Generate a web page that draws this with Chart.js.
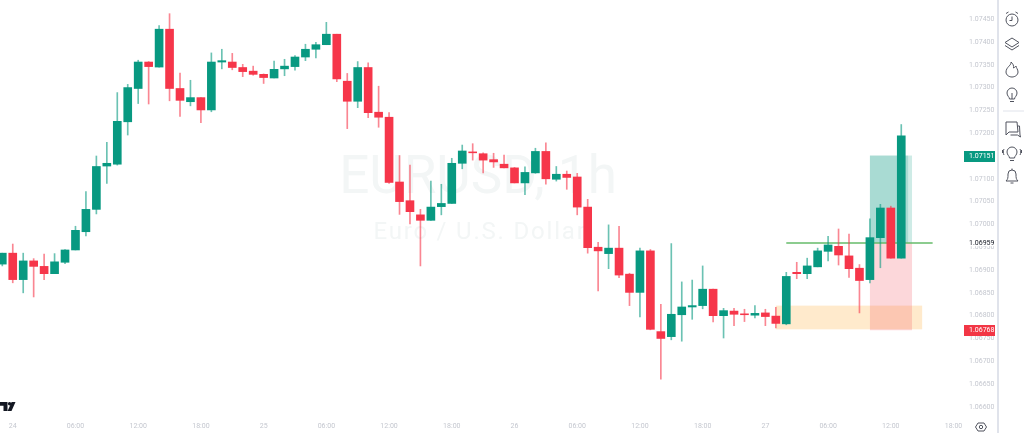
<!DOCTYPE html>
<html>
<head>
<meta charset="utf-8">
<title>EURUSD, 1h</title>
<script src="https://cdn.jsdelivr.net/npm/chart.js@4"></script>
<style>
    html, body { margin: 0; padding: 0; background: #fff; overflow: hidden; }
    #grafica { position: absolute; left: 0; top: 0; }
    #divisor { position: absolute; left: 997px; top: 0; width: 2px; height: 433px; background: #e0e3eb; }
    #iconos { position: absolute; left: 0; top: 0; }
</style>
</head>
<body>
<canvas id="grafica" width="997" height="433"></canvas>
<div id="divisor"></div>
<svg id="iconos" width="1024" height="433" fill="none" stroke="#50535e" stroke-width="1">
    <!-- logo -->
    <path d="M0 402h7.5v9H3.5v-5.2H0z M15.5 402l-4 9H7.6l4-9z" fill="#131722" stroke="none"/>
    <circle cx="9.6" cy="403.8" r="1.7" fill="#131722" stroke="none"/>
    <!-- reloj -->
    <circle cx="1012" cy="20" r="6"/><path d="M1012 16.5V20.5H1009.5M1006 13.5l2.5-1.5M1018 13.5l-2.5-1.5"/>
    <!-- capas -->
    <path d="M1012 38l7 4.5-7 4.5-7-4.5z M1005 45.5l7 4.5 7-4.5"/>
    <!-- llama -->
    <path d="M1011 62c1 3-5 5-5 10 0 3 3 5 6 5s6-2 6-5c0-3-2-4-2-6-1 1-2 2-2.500 2 .5-2-.5-4.500-2.500-6z"/>
    <!-- foco -->
    <path d="M1009.500 99c0-2-2.500-3-2.500-6a5 5 0 0 1 10 0c0 3-2.500 4-2.500 6zM1010 101.500h4M1012 93v6"/>
    <path d="M1003 111h21" stroke="#e0e3eb"/>
    <!-- chat -->
    <path d="M1006 122h11l1 10h-9l-3 3zM1018 126h1.500l.5 9 .5 2-3-2h-7"/>
    <!-- foco con ondas -->
    <path d="M1009.500 158c0-2-2.500-3-2.500-6a5 5 0 0 1 10 0c0 3-2.500 4-2.500 6zM1010 160.500h4M1004 149c-1 2-1 4 0 6M1020 149c1 2 1 4 0 6M1002.500 150v3M1021.500 150v3"/>
    <!-- campana -->
    <path d="M1006 181h12c-2-2-2-3-2-7a4 4 0 0 0-8 0c0 4 0 5-2 7zM1010.500 183h3M1012 170v-1.500"/>
    <!-- ajustes -->
    <path d="M978 423h6l2.500 4-2.500 4h-6l-2.500-4z"/><circle cx="981" cy="427" r="1.700"/>
</svg>

<script>
// Horas desde el 24 a las 00:00, la primera vela es la de las 23:00 del dia anterior
const primeraHora = -1;

const opens = [
    1.06913, 1.06937, 1.06879, 1.06920, 1.06908, 1.06892, 1.06917, 1.06944, 1.06984, 1.07033,
    1.07128, 1.07132, 1.07225, 1.07298, 1.07356, 1.07345, 1.07428, 1.07298, 1.07269, 1.07278,
    1.07251, 1.07356, 1.07356, 1.07344, 1.07336, 1.07329, 1.07321, 1.07341, 1.07346, 1.07367,
    1.07384, 1.07394, 1.07417, 1.07314, 1.07270, 1.07344, 1.07246, 1.07235, 1.07093, 1.07052,
    1.07021, 1.07009, 1.07039, 1.07046, 1.07134, 1.07159, 1.07155, 1.07142, 1.07132, 1.07124,
    1.07091, 1.07113, 1.07160, 1.07099, 1.07110, 1.07104, 1.07038, 1.06950, 1.06936, 1.06948,
    1.06891, 1.06851, 1.06942, 1.06765, 1.06754, 1.06802, 1.06819, 1.06822, 1.06858, 1.06800,
    1.06810, 1.06804, 1.06801, 1.06806, 1.06799, 1.06782, 1.06895, 1.06892, 1.06907, 1.06941,
    1.06952, 1.06931, 1.06904, 1.06879, 1.06971, 1.07036, 1.06926
];
const highs = [
    1.06937, 1.06957, 1.06937, 1.06925, 1.06935, 1.06936, 1.06945, 1.06996, 1.07072, 1.07150,
    1.07180, 1.07289, 1.07307, 1.07360, 1.07357, 1.07436, 1.07462, 1.07332, 1.07316, 1.07278,
    1.07376, 1.07384, 1.07375, 1.07351, 1.07347, 1.07330, 1.07358, 1.07362, 1.07370, 1.07395,
    1.07399, 1.07443, 1.07417, 1.07331, 1.07357, 1.07354, 1.07303, 1.07245, 1.07151, 1.07130,
    1.07033, 1.07095, 1.07088, 1.07145, 1.07174, 1.07177, 1.07157, 1.07156, 1.07152, 1.07125,
    1.07126, 1.07167, 1.07179, 1.07127, 1.07117, 1.07112, 1.07055, 1.06961, 1.06999, 1.06996,
    1.06893, 1.06948, 1.06945, 1.06825, 1.06958, 1.06874, 1.06878, 1.06909, 1.06858, 1.06816,
    1.06816, 1.06814, 1.06822, 1.06814, 1.06818, 1.06895, 1.06917, 1.06926, 1.06948, 1.06974,
    1.06990, 1.06979, 1.06912, 1.07012, 1.07044, 1.07040, 1.07219
];
const lows = [
    1.06909, 1.06872, 1.06850, 1.06841, 1.06879, 1.06892, 1.06914, 1.06944, 1.06975, 1.07023,
    1.07090, 1.07130, 1.07196, 1.07265, 1.07264, 1.07345, 1.07271, 1.07237, 1.07260, 1.07223,
    1.07247, 1.07341, 1.07339, 1.07324, 1.07327, 1.07309, 1.07321, 1.07326, 1.07338, 1.07359,
    1.07365, 1.07394, 1.07313, 1.07210, 1.07256, 1.07234, 1.07213, 1.07090, 1.07022, 1.07001,
    1.06909, 1.07009, 1.07021, 1.07046, 1.07122, 1.07141, 1.07113, 1.07125, 1.07124, 1.07091,
    1.07065, 1.07112, 1.07088, 1.07095, 1.07077, 1.07021, 1.06937, 1.06854, 1.06903, 1.06883,
    1.06822, 1.06797, 1.06769, 1.06661, 1.06747, 1.06744, 1.06792, 1.06815, 1.06786, 1.06751,
    1.06778, 1.06787, 1.06795, 1.06778, 1.06773, 1.06780, 1.06881, 1.06881, 1.06907, 1.06920,
    1.06911, 1.06884, 1.06806, 1.06872, 1.06905, 1.06926, 1.06926
];
const closes = [
    1.06937, 1.06879, 1.06920, 1.06908, 1.06892, 1.06918, 1.06944, 1.06987, 1.07033, 1.07127,
    1.07134, 1.07226, 1.07300, 1.07356, 1.07346, 1.07428, 1.07298, 1.07272, 1.07278, 1.07251,
    1.07356, 1.07359, 1.07344, 1.07335, 1.07329, 1.07322, 1.07340, 1.07347, 1.07367, 1.07384,
    1.07394, 1.07417, 1.07319, 1.07270, 1.07344, 1.07245, 1.07235, 1.07092, 1.07050, 1.07028,
    1.07009, 1.07038, 1.07046, 1.07134, 1.07161, 1.07157, 1.07141, 1.07137, 1.07124, 1.07091,
    1.07114, 1.07160, 1.07100, 1.07110, 1.07103, 1.07038, 1.06949, 1.06942, 1.06948, 1.06889,
    1.06851, 1.06942, 1.06770, 1.06750, 1.06803, 1.06819, 1.06822, 1.06858, 1.06800, 1.06811,
    1.06803, 1.06802, 1.06805, 1.06798, 1.06783, 1.06886, 1.06892, 1.06909, 1.06942, 1.06955,
    1.06933, 1.06903, 1.06877, 1.06971, 1.07036, 1.06926, 1.07194
];

// Etiquetas del eje de tiempo (cada 6 horas)
const etiquetasHora = ["24", "06:00", "12:00", "18:00", "25", "06:00", "12:00", "18:00", "26", "06:00", "12:00", "18:00", "27", "06:00", "12:00", "18:00"];

// Zonas dibujadas sobre el grafico
const zonaDesde = [73, 82, 82, 85.66];
const zonaHasta = [87, 86.03, 85.66, 86.03];
const zonaArriba = [1.06822, 1.06959, 1.07151, 1.07151];
const zonaAbajo = [1.06770, 1.06768, 1.06959, 1.06959];
const zonaColor = ["rgba(255,152,0,0.2)", "rgba(242,54,69,0.2)", "rgba(8,153,129,0.35)", "rgba(8,153,129,0.2)"];

// Linea verde
const lineaHoras = [74, 88];
const lineaPrecio = 1.06959;

// Precios marcados en el eje
const precioActual = 1.07151;
const precioStop = 1.06768;

const verde = "#089981";
const rojo = "#f6364a";
const verdeMecha = "rgba(8,153,129,0.6)";
const rojoMecha = "rgba(246,54,74,0.6)";
const fuente = "Roboto, sans-serif";

const horas = opens.map((o, i) => primeraHora + i);
const colores = opens.map((o, i) => closes[i] >= o ? verde : rojo);
const coloresMecha = opens.map((o, i) => closes[i] >= o ? verdeMecha : rojoMecha);

// Marca de agua y zonas, debajo de las velas
const fondo = {
    id: "fondo",
    beforeDatasetsDraw(chart) {
        const { ctx, scales: { x, y } } = chart;
        ctx.save();
        ctx.fillStyle = "#f3f6f6";
        ctx.textAlign = "center";
        ctx.font = "53px " + fuente;
        ctx.fillText("EURUSD, 1h", 478, 193);
        ctx.letterSpacing = "1.8px";
        ctx.font = "24px " + fuente;
        ctx.fillText("Euro / U.S. Dollar", 480, 239);
        ctx.letterSpacing = "0px";
        zonaDesde.forEach((d, i) => {
            const x0 = x.getPixelForValue(d);
            const x1 = x.getPixelForValue(zonaHasta[i]);
            const y0 = y.getPixelForValue(zonaArriba[i]);
            const y1 = y.getPixelForValue(zonaAbajo[i]);
            ctx.fillStyle = zonaColor[i];
            ctx.fillRect(x0, y0, x1 - x0, y1 - y0);
        });
        ctx.restore();
    }
};

// Etiquetas de precio en el eje derecho
function etiquetaPrecio(ctx, y, valor, colorFondo, colorTexto) {
    const py = Math.round(y.getPixelForValue(valor));
    ctx.fillStyle = colorFondo;
    ctx.fillRect(964, py - 5, 31, 11);
    ctx.fillStyle = colorTexto;
    ctx.fillText(valor.toFixed(5), 969, py + 0.5);
}

const etiquetas = {
    id: "etiquetas",
    afterDraw(chart) {
        const { ctx, scales: { y } } = chart;
        ctx.save();
        ctx.font = "7px " + fuente;
        ctx.textAlign = "left";
        ctx.textBaseline = "middle";
        ctx.fillStyle = "#fff";
        ctx.fillRect(964, y.getPixelForValue(lineaPrecio) - 4, 31, 7);
        ctx.fillStyle = "#131722";
        ctx.fillText(lineaPrecio.toFixed(5), 969, y.getPixelForValue(lineaPrecio));
        etiquetaPrecio(ctx, y, precioActual, verde, "#fff");
        etiquetaPrecio(ctx, y, precioStop, "#f23645", "#fff");
        ctx.restore();
    }
};

new Chart(document.getElementById("grafica"), {
    type: "bar",
    data: {
        datasets: [
            {
                data: horas.map((h, i) => ({ x: h, y: [opens[i], closes[i]] })),
                backgroundColor: colores,
                barThickness: 8,
                grouped: false,
                order: 1
            },
            {
                data: horas.map((h, i) => ({ x: h, y: [lows[i], highs[i]] })),
                backgroundColor: coloresMecha,
                barThickness: 1,
                grouped: false,
                order: 2
            },
            {
                type: "line",
                data: lineaHoras.map(h => ({ x: h, y: lineaPrecio })),
                borderColor: "#66bb6a",
                borderWidth: 1.5,
                pointRadius: 0,
                order: 3
            }
        ]
    },
    options: {
        responsive: false,
        animation: false,
        events: [],
        layout: { padding: 0, autoPadding: false },
        plugins: { legend: { display: false }, tooltip: { enabled: false } },
        scales: {
            x: {
                type: "linear",
                offset: false,
                min: -1.22,
                max: 90.81,
                grid: { display: false, drawTicks: false },
                border: { display: false },
                afterFit(scale) {
                    scale.height = 17;
                    scale.paddingLeft = 0;
                    scale.paddingRight = 0;
                },
                ticks: {
                    stepSize: 6,
                    includeBounds: false,
                    maxRotation: 0,
                    autoSkip: false,
                    padding: 6,
                    color: "#c4c7cf",
                    font: { family: fuente, size: 7 },
                    callback: v => etiquetasHora[v / 6]
                }
            },
            y: {
                position: "right",
                min: 1.0658,
                max: 1.07492,
                grid: { display: false, drawTicks: false },
                border: { display: false },
                afterFit(scale) {
                    scale.width = 35;
                    scale.paddingTop = 0;
                    scale.paddingBottom = 0;
                },
                ticks: {
                    stepSize: 0.0005,
                    includeBounds: false,
                    autoSkip: false,
                    padding: 7,
                    color: "#c4c7cf",
                    font: { family: fuente, size: 7 },
                    callback: v => v.toFixed(5)
                }
            }
        }
    },
    plugins: [fondo, etiquetas]
});
</script>
</body>
</html>
